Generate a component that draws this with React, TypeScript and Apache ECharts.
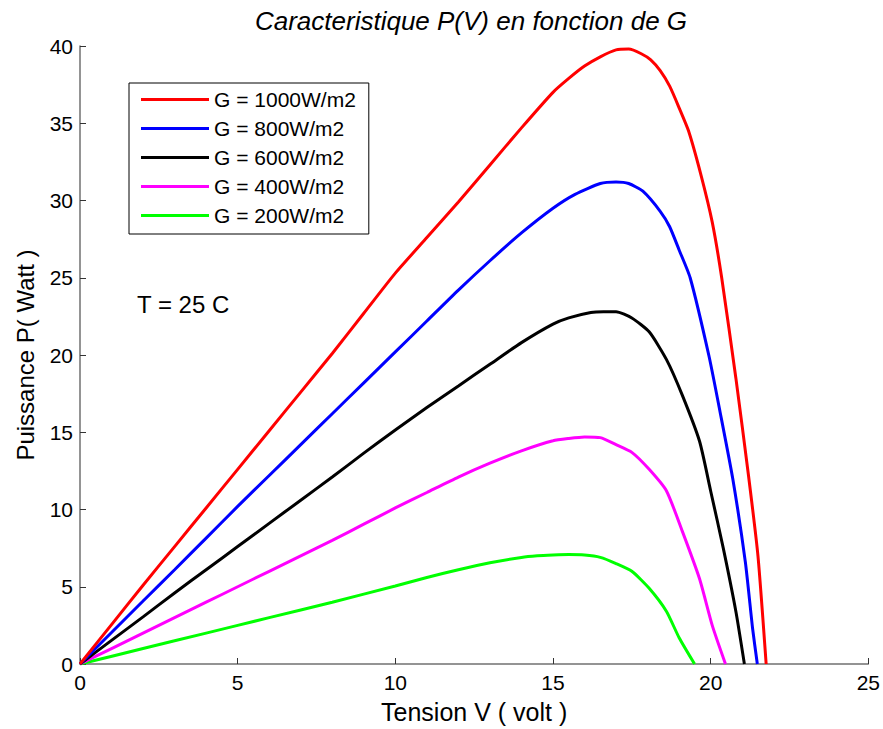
import React, { useEffect, useRef } from "react";
import * as echarts from "echarts";

// G = 1000 W/m2
const v1000 = [0, 1, 2, 3, 4, 5, 6, 7, 8, 9, 10, 11, 12, 13, 14, 15, 15.5, 16, 16.5, 17, 17.4, 17.8, 18.1, 18.4, 18.7, 19, 19.3, 19.7, 20.05, 20.35, 20.8, 21.2, 21.5, 21.76];
const p1000 = [0, 2.55, 5.1, 7.6, 10.1, 12.6, 15.1, 17.6, 20.1, 22.7, 25.3, 27.6, 29.9, 32.3, 34.7, 37.0, 37.9, 38.7, 39.3, 39.75, 39.8, 39.5, 39.1, 38.4, 37.4, 36.0, 34.5, 31.6, 28.6, 25.0, 18.5, 12.2, 7.0, 0];
// G = 800 W/m2
const v800 = [0, 1, 2, 3, 4, 5, 6, 7, 8, 9, 10, 11, 12, 13, 14, 15, 15.7, 16.5, 17, 17.4, 17.85, 18.4, 18.7, 19, 19.35, 19.95, 20.3, 20.7, 21.1, 21.33, 21.48];
const p800 = [0, 2.04, 4.08, 6.1, 8.15, 10.2, 12.2, 14.2, 16.2, 18.2, 20.2, 22.2, 24.2, 26.1, 27.9, 29.5, 30.4, 31.1, 31.2, 31.1, 30.6, 29.3, 28.3, 26.8, 25.0, 19.9, 16.3, 12.0, 6.6, 2.3, 0];
// G = 600 W/m2
const v600 = [0, 1, 2, 3, 4, 5, 6, 7, 8, 9, 10, 11, 12, 13, 14, 15, 15.5, 16.2, 16.6, 17, 17.5, 18.05, 18.6, 19.1, 19.65, 20, 20.4, 20.8, 21.07];
const p600 = [0, 1.53, 3.05, 4.6, 6.1, 7.6, 9.1, 10.6, 12.1, 13.65, 15.15, 16.6, 18.0, 19.4, 20.8, 22.0, 22.4, 22.75, 22.8, 22.8, 22.4, 21.5, 19.7, 17.4, 14.4, 11.2, 7.5, 3.4, 0];
// G = 400 W/m2
const v400 = [0, 1, 2, 3, 4, 5, 6, 7, 8, 9, 10, 11, 12, 13, 14, 15, 15.5, 16, 16.5, 17, 17.5, 18.05, 18.6, 19.1, 19.65, 20.05, 20.47];
const p400 = [0, 1.0, 2.0, 3.0, 4.0, 5.0, 6.0, 7.0, 8.0, 9.05, 10.1, 11.1, 12.1, 13.0, 13.8, 14.45, 14.6, 14.7, 14.65, 14.2, 13.7, 12.6, 11.2, 8.6, 5.5, 2.5, 0];
// G = 200 W/m2
const v200 = [0, 2, 4, 6, 8, 10, 11, 12, 13, 14, 14.5, 15, 15.5, 16, 16.5, 17, 17.5, 18.05, 18.6, 19, 19.49];
const p200 = [0, 1.0, 2.0, 3.0, 4.0, 5.05, 5.6, 6.1, 6.55, 6.9, 7.0, 7.05, 7.08, 7.05, 6.9, 6.5, 6.0, 4.9, 3.4, 1.7, 0];

const seriesNames = ["G = 1000W/m2", "G = 800W/m2", "G = 600W/m2", "G = 400W/m2", "G = 200W/m2"];
const seriesColors = ["#ff0000", "#0000ff", "#000000", "#ff00ff", "#00ff00"];
const seriesV = [v1000, v800, v600, v400, v200];
const seriesP = [p1000, p800, p600, p400, p200];

const titleText = "Caracteristique P(V) en fonction de G";
const xName = "Tension V ( volt )";
const yName = "Puissance P( Watt )";
const noteText = "T = 25 C";

const FONT = '"Liberation Sans", Arial, Helvetica, sans-serif';

export default function App() {
  const ref = useRef<HTMLDivElement>(null);
  useEffect(() => {
    if (!ref.current) return;
    const chart = echarts.init(ref.current, undefined, { renderer: "svg" });
    const series = seriesNames.map((name, i) => ({
      name,
      type: "line",
      data: seriesV[i].map((v, j) => [v, seriesP[i][j]]),
      showSymbol: false,
      symbol: "none",
      smooth: 0.2,
      lineStyle: { color: seriesColors[i], width: 3 },
      itemStyle: { color: seriesColors[i] },
      z: 10 - i,
    }));
    const axisLine = { show: true, onZero: false, lineStyle: { color: "#707070", width: 1.5 } };
    chart.setOption({
      animation: false,
      backgroundColor: "#ffffff",
      textStyle: { fontFamily: FONT },
      grid: { left: 80, top: 46, right: 14, bottom: 63, containLabel: false },
      xAxis: {
        type: "value",
        min: 0,
        max: 25,
        interval: 5,
        name: xName,
        nameLocation: "middle",
        nameGap: 35,
        nameTextStyle: { fontSize: 25, color: "#000", fontFamily: FONT },
        axisLine,
        axisTick: { show: true, inside: true, length: 6, lineStyle: { color: "#333", width: 1 } },
        axisLabel: { fontSize: 21, color: "#000", margin: 8, fontFamily: FONT },
        splitLine: { show: false },
      },
      yAxis: {
        type: "value",
        min: 0,
        max: 40,
        interval: 5,
        name: yName,
        nameLocation: "middle",
        nameGap: 43,
        nameRotate: 90,
        nameTextStyle: { fontSize: 24, color: "#000", fontFamily: FONT },
        axisLine,
        axisTick: { show: true, inside: true, length: 6, lineStyle: { color: "#333", width: 1 } },
        axisLabel: { fontSize: 21, color: "#000", margin: 7, fontFamily: FONT },
        splitLine: { show: false },
      },
      legend: {
        data: seriesNames,
        orient: "vertical",
        left: 129,
        top: 83,
        padding: [6, 13, 8, 12],
        itemGap: 8,
        icon: "rect",
        itemWidth: 68,
        itemHeight: 3,
        borderColor: "#000",
        borderWidth: 1,
        backgroundColor: "#fff",
        textStyle: { fontSize: 21, color: "#000", lineHeight: 21, fontFamily: FONT },
      },
      graphic: [
        {
          type: "text",
          x: 471,
          y: 21,
          style: {
            text: titleText,
            font: `italic 26px ${FONT}`,
            fill: "#000",
            align: "center",
            verticalAlign: "middle",
          },
        },
        {
          type: "text",
          x: 137,
          y: 304,
          style: {
            text: noteText,
            font: `24px ${FONT}`,
            fill: "#000",
            align: "left",
            verticalAlign: "middle",
          },
        },
      ],
      series,
    });
    return () => chart.dispose();
  }, []);
  return (
    <div
      ref={ref}
      style={{ position: "fixed", left: 0, top: 0, width: 883, height: 729, background: "#fff" }}
    />
  );
}
